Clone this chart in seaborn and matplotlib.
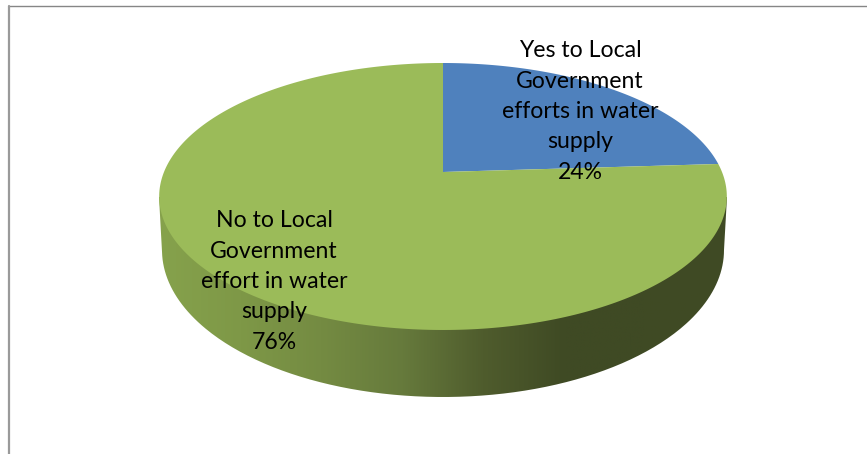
import numpy as np
import matplotlib
matplotlib.use("Agg")
import matplotlib.pyplot as plt
from matplotlib.patches import PathPatch
from matplotlib.path import Path
import seaborn as sns

labels = ["Yes to Local\nGovernment\nefforts in water\nsupply\n24%",
          "No to Local\nGovernment\neffort in water\nsupply\n76%"]
values = [24, 76]
face_colors = ["#4F81BD", "#9BBB59"]
wall_stops = ["#86A24C", "#7E9847", "#748B42", "#667A3C", "#4F5C2D", "#3F4A24", "#3F4A24", "#404B24"]

sns.set_theme(style="white")
plt.rcParams["font.family"] = ["Lato", "DejaVu Sans"]

fig = plt.figure(figsize=(8.67, 4.54), dpi=100, facecolor="white")
ax = fig.add_axes([0, 0, 1, 1])
ax.set_xlim(0, 867)
ax.set_ylim(454, 0)
ax.axis("off")

# Perspective view of the pie's top disc, in canvas units
CX, APEX_Y, SCALE_X, TILT, SCALE_Y = 443.0, 172.0, 279.0, 0.1835, -97.44


def rim(deg):
    """Project clockwise-from-north angles on the unit disc to the canvas."""
    a = np.radians(deg)
    u, v = np.sin(a), np.cos(a)
    w = 1 + TILT * v
    return CX + SCALE_X * u / w, (SCALE_Y * v + APEX_Y) / w


# Side wall: the lower rim joined to the widest points of the top disc
t = np.radians(np.linspace(180, 0, 240))
wall_x = np.r_[159.0, 443 + 281 * np.cos(t), 727.0]
wall_y = np.r_[197.0, 250 + 147 * np.sin(t), 197.0]
ramp = sns.blend_palette(wall_stops, n_colors=256, as_cmap=True)
grad = ax.imshow(np.linspace(0, 1, 256)[None, :], cmap=ramp, aspect="auto",
                 extent=(159, 727, 400, 190), zorder=1)
clip = PathPatch(Path(np.c_[wall_x, wall_y]), transform=ax.transData,
                 fc="none", ec="none")
ax.add_patch(clip)
grad.set_clip_path(clip)
ax.set_xlim(0, 867)
ax.set_ylim(454, 0)

# Top face: one wedge per share, clockwise from north
start = 0.0
for value, color in zip(values, face_colors):
    sweep = value / sum(values) * 360
    xs, ys = rim(np.linspace(start, start + sweep, 300))
    ax.fill(np.r_[CX, xs], np.r_[APEX_Y, ys], color=color, lw=0, zorder=2)
    start += sweep

# Chart frame: only the top and left edges show
ax.plot([9, 867], [6, 6], color="#868686", lw=1.0, zorder=3)
ax.plot([9, 9], [6, 454], color="#9A9A9A", lw=1.6, zorder=3)

# Each label is set line by line on baselines 30.5 units apart
label_pos = [(580, 57), (274, 227)]
for text, (x, y) in zip(labels, label_pos):
    for i, line in enumerate(text.split("\n")):
        ax.text(x, y + i * 30.5, line, ha="center", va="baseline", fontsize=16.6,
                color="black", zorder=4)

fig.savefig("out.png", dpi=100)
